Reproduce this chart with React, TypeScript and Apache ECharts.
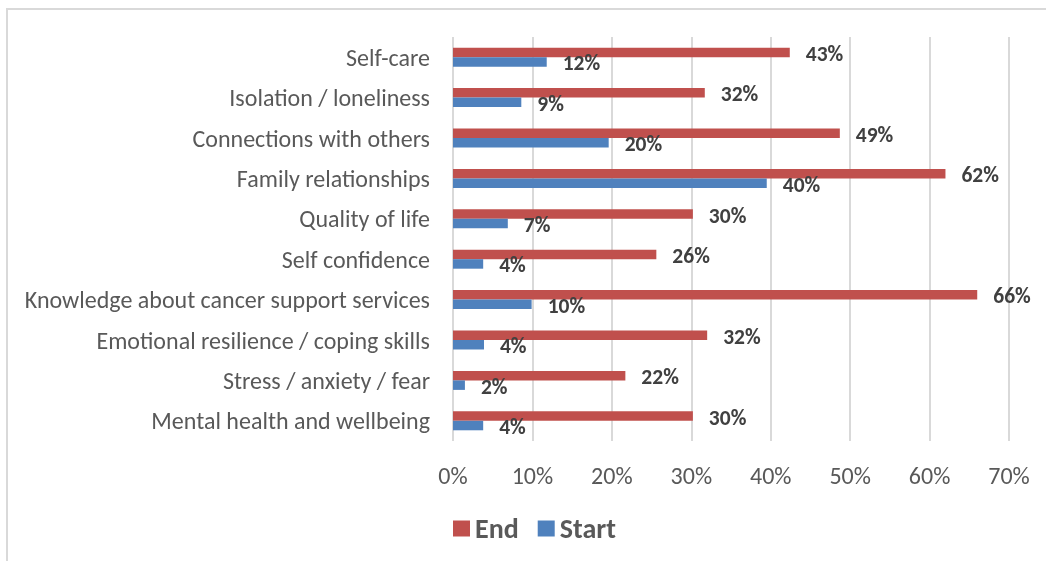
import React, { useEffect, useRef } from "react";
import * as echarts from "echarts";

const categories = [
  "Self-care",
  "Isolation / loneliness",
  "Connections with others",
  "Family relationships",
  "Quality of life",
  "Self confidence",
  "Knowledge about cancer support services",
  "Emotional resilience / coping skills",
  "Stress / anxiety / fear",
  "Mental health and wellbeing",
];
const endValues = [42.4, 31.7, 48.7, 62.0, 30.2, 25.6, 66.0, 32.0, 21.7, 30.2];
const startValues = [11.8, 8.6, 19.6, 39.5, 6.9, 3.8, 9.9, 3.9, 1.5, 3.8];
const endLabels = ["43%", "32%", "49%", "62%", "30%", "26%", "66%", "32%", "22%", "30%"];
const startLabels = ["12%", "9%", "20%", "40%", "7%", "4%", "10%", "4%", "2%", "4%"];

const FONT = "Carlito, Calibri, 'Open Sans', sans-serif";

export default function App() {
  const ref = useRef<HTMLDivElement>(null);
  useEffect(() => {
    if (!ref.current) return;
    const chart = echarts.init(ref.current, undefined, { renderer: "svg" });
    const labelStyle = (labels: string[]) => ({
      show: true,
      position: "right" as const,
      distance: 16,
      offset: [0, 1.5],
      fontFamily: FONT,
      fontSize: 21.5,
      fontWeight: "bold" as const,
      color: "#404040",
      formatter: (p: any) => labels[p.dataIndex],
    });
    chart.setOption({
      animation: false,
      textStyle: { fontFamily: FONT },
      grid: { left: 453, right: 37, top: 37, bottom: 120, containLabel: false },
      legend: {
        data: ["End", "Start"],
        left: 453,
        top: 514.5,
        padding: 0,
        icon: "rect",
        itemWidth: 17,
        itemHeight: 16,
        itemGap: 19,
        symbolKeepAspect: false,
        textStyle: {
          fontFamily: FONT,
          fontSize: 28,
          lineHeight: 28,
          fontWeight: "bold",
          color: "#595959",
        },
      },
      xAxis: {
        type: "value",
        min: 0,
        max: 70,
        interval: 10,
        axisLine: { show: false },
        axisTick: { show: false },
        splitLine: { show: true, lineStyle: { color: "#d9d9d9", width: 2 } },
        axisLabel: {
          formatter: (v: number) => v + "%",
          fontFamily: FONT,
          fontSize: 24,
          color: "#595959",
          margin: 22,
        },
      },
      yAxis: {
        type: "category",
        data: categories,
        inverse: true,
        axisLine: { show: false },
        axisTick: { show: false },
        axisLabel: { fontFamily: FONT, fontSize: 24, color: "#595959", margin: 23 },
      },
      series: [
        {
          name: "End",
          type: "bar",
          data: endValues,
          barGap: "0%",
          barCategoryGap: "53%",
          itemStyle: { color: "#C0504D" },
          label: labelStyle(endLabels),
        },
        {
          name: "Start",
          type: "bar",
          data: startValues,
          barGap: "0%",
          barCategoryGap: "53%",
          itemStyle: { color: "#4F81BD" },
          label: labelStyle(startLabels),
        },
      ],
    });
    return () => chart.dispose();
  }, []);
  return (
    <>
      <div
        style={{
          position: "fixed",
          left: 6,
          top: 8,
          width: 1100,
          height: 600,
          borderTop: "2px solid #d9d9d9",
          borderLeft: "2px solid #d9d9d9",
          boxSizing: "border-box",
        }}
      />
      <div ref={ref} style={{ position: "fixed", left: 0, top: 0, width: 1046, height: 561 }} />
    </>
  );
}
